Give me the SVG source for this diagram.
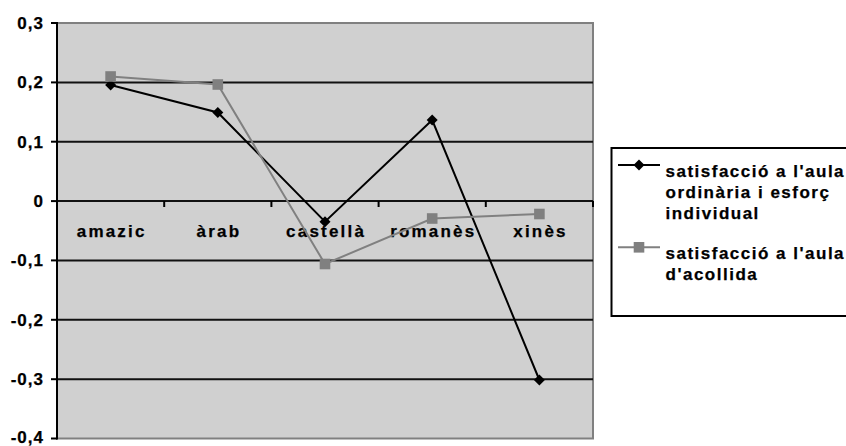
<svg xmlns="http://www.w3.org/2000/svg" width="846" height="446" viewBox="0 0 846 446">
<style>
text{font-family:"Liberation Sans",Arial,sans-serif;font-weight:bold;font-size:17px;fill:#000;stroke:#000;stroke-width:0.25px}
.yl{text-anchor:end;letter-spacing:1px}
.cl{text-anchor:middle;letter-spacing:2.2px}
.lg{letter-spacing:1.5px}
.grid{stroke:#111;stroke-width:2}
.s1{fill:none;stroke:#000;stroke-width:2}
.s2{fill:none;stroke:#808080;stroke-width:2}
</style>
<defs>
<path id="dia" d="M0,-5.5L5.5,0L0,5.5L-5.5,0Z" fill="#000"/>
<rect id="sq" x="-5.3" y="-5.3" width="10.6" height="10.6" fill="#808080"/>
</defs>
<rect width="846" height="446" fill="#fff"/>
<g id="plot">
<rect x="57" y="23" width="536" height="415.5" fill="#d0d0d0" stroke="#808080" stroke-width="2"/>
<g class="grid">
<line x1="57" y1="82.4" x2="593" y2="82.4"/>
<line x1="57" y1="141.7" x2="593" y2="141.7"/>
<line x1="57" y1="201.1" x2="593" y2="201.1"/>
<line x1="57" y1="260.4" x2="593" y2="260.4"/>
<line x1="57" y1="319.8" x2="593" y2="319.8"/>
<line x1="57" y1="379.2" x2="593" y2="379.2"/>
</g>
<g stroke="#000" stroke-width="2">
<line x1="57" y1="22" x2="57" y2="439.5"/>
<line x1="51" y1="23" x2="57" y2="23"/>
<line x1="51" y1="82.4" x2="57" y2="82.4"/>
<line x1="51" y1="141.7" x2="57" y2="141.7"/>
<line x1="51" y1="201.1" x2="57" y2="201.1"/>
<line x1="51" y1="260.4" x2="57" y2="260.4"/>
<line x1="51" y1="319.8" x2="57" y2="319.8"/>
<line x1="51" y1="379.2" x2="57" y2="379.2"/>
<line x1="51" y1="438.5" x2="57" y2="438.5"/>
<line x1="164.2" y1="201" x2="164.2" y2="207"/>
<line x1="271.4" y1="201" x2="271.4" y2="207"/>
<line x1="378.6" y1="201" x2="378.6" y2="207"/>
<line x1="485.8" y1="201" x2="485.8" y2="207"/>
<line x1="593" y1="201" x2="593" y2="207"/>
</g>
</g>
<g id="y-labels">
<text class="yl" x="44" y="29">0,3</text>
<text class="yl" x="44" y="88.4">0,2</text>
<text class="yl" x="44" y="147.7">0,1</text>
<text class="yl" x="44" y="207.1">0</text>
<text class="yl" x="44" y="266.4">-0,1</text>
<text class="yl" x="44" y="325.8">-0,2</text>
<text class="yl" x="44" y="385.2">-0,3</text>
<text class="yl" x="44" y="442.5">-0,4</text>
</g>
<g id="x-labels">
<text class="cl" x="111.7" y="236.5">amazic</text>
<text class="cl" x="218.9" y="236.5">àrab</text>
<text class="cl" x="326.1" y="236.5">castellà</text>
<text class="cl" x="433.3" y="236.5">romanès</text>
<text class="cl" x="540.5" y="236.5">xinès</text>
</g>
<g id="connectors">
<polyline class="s1" points="110.6,85 217.8,112.5 325,221.7 432.2,120 539.4,380"/>
<polyline class="s2" points="110.6,76.5 217.8,84.5 325,264 432.2,218.5 539.4,214"/>
</g>
<g id="series1-markers">
<use href="#dia" x="110.6" y="85"/>
<use href="#dia" x="217.8" y="112.5"/>
<use href="#dia" x="325" y="221.7"/>
<use href="#dia" x="432.2" y="120"/>
<use href="#dia" x="539.4" y="380"/>
</g>
<g id="series2-markers">
<use href="#sq" x="110.6" y="76.5"/>
<use href="#sq" x="217.8" y="84.5"/>
<use href="#sq" x="325" y="264"/>
<use href="#sq" x="432.2" y="218.5"/>
<use href="#sq" x="539.4" y="214"/>
</g>
<g id="legend">
<rect x="611.5" y="148" width="240" height="168" fill="#fff" stroke="#000" stroke-width="2"/>
<line x1="618" y1="165" x2="660" y2="165" stroke="#000" stroke-width="2"/>
<use href="#dia" x="639" y="165"/>
<text class="lg" x="665.5" y="176.5">satisfacció a l'aula</text>
<text class="lg" x="665.5" y="197.5">ordinària i esforç</text>
<text class="lg" x="665.5" y="218.5">individual</text>
<line x1="618" y1="247.3" x2="660" y2="247.3" stroke="#808080" stroke-width="2"/>
<use href="#sq" x="639" y="247.3"/>
<text class="lg" x="665.5" y="258.5">satisfacció a l'aula</text>
<text class="lg" x="665.5" y="279.5">d'acollida</text>
</g>
</svg>
